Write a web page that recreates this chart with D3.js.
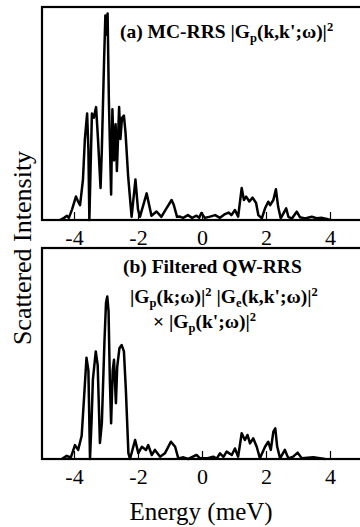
<!DOCTYPE html>
<html>
<head>
<meta charset="utf-8">
<script src="https://cdn.jsdelivr.net/npm/d3@7"></script>
<style>
  body { margin: 0; background: #fff; }
  svg { display: block; }
</style>
</head>
<body>
<svg id="chart" width="360" height="527"></svg>
<script>
// panel (a): MC-RRS spectrum, energy in meV and normalised intensity
const energyA = [-4.44, -4.31, -4.22, -4.16, -4.06, -3.94, -3.88, -3.81, -3.72, -3.66,
  -3.59, -3.55, -3.52, -3.49, -3.44, -3.38, -3.31, -3.25, -3.17, -3.13,
  -3.06, -3.02, -2.98, -2.95, -2.91, -2.84, -2.80, -2.75, -2.70, -2.66,
  -2.59, -2.55, -2.50, -2.44, -2.39, -2.31, -2.20, -2.08, -2.00, -1.94,
  -1.73, -1.58, -1.42, -1.27, -1.13, -0.95, -0.88, -0.78, -0.69, -0.59,
  -0.44, -0.31, -0.17, -0.09, -0.02, 0.09, 0.25, 0.41, 0.56, 0.72,
  0.83, 0.92, 1.03, 1.13, 1.24, 1.31, 1.38, 1.48, 1.58, 1.69,
  1.76, 1.87, 1.97, 2.07, 2.13, 2.23, 2.31, 2.38, 2.46, 2.63,
  2.70, 2.81, 2.96, 3.06, 3.22, 3.43, 3.58, 3.75, 3.90, 4.00];
const intensityA = [0, 0.01, 0.02, 0.01, 0.05, 0.11, 0.09, 0.07, 0.19, 0.38,
  0.50, 0.33, 0, 0.19, 0.50, 0.48, 0.53, 0.38, 0.15, 0.33,
  0.75, 0.96, 0.87, 0.97, 0.56, 0.12, 0.52, 0.28, 0.45, 0.23,
  0.53, 0.38, 0.48, 0.49, 0.41, 0.21, 0.015, 0.19, 0.05, 0.015,
  0.125, 0.02, 0.04, 0.015, 0.05, 0.094, 0.07, 0.015, 0.016, 0.01,
  0.023, 0.01, 0.02, 0.01, 0.033, 0.01, 0.016, 0.023, 0.01, 0.028,
  0.035, 0.023, 0.047, 0.016, 0.15, 0.094, 0.11, 0.087, 0.105, 0.08,
  0.023, 0.008, 0.055, 0.086, 0.07, 0.094, 0.144, 0.062, 0.008, 0.055,
  0.015, 0.007, 0.039, 0.013, 0.007, 0.015, 0.008, 0.01, 0.005, 0];

// panel (b): filtered QW-RRS spectrum
const energyB = [-4.38, -4.23, -4.10, -3.97, -3.87, -3.76, -3.69, -3.61, -3.55, -3.50,
  -3.45, -3.41, -3.32, -3.26, -3.19, -3.13, -3.05, -3.00, -2.96, -2.92,
  -2.88, -2.84, -2.79, -2.75, -2.69, -2.65, -2.58, -2.51, -2.44, -2.38,
  -2.30, -2.25, -2.09, -1.99, -1.88, -1.75, -1.68, -1.57, -1.47, -1.31,
  -1.16, -0.97, -0.84, -0.74, -0.58, -0.43, -0.17, -0.06, 0.15, 0.35,
  0.46, 0.56, 0.67, 0.77, 0.93, 1.03, 1.13, 1.24, 1.34, 1.42,
  1.50, 1.60, 1.71, 1.81, 1.97, 2.07, 2.15, 2.23, 2.29, 2.35,
  2.44, 2.59, 2.70, 2.85, 2.99, 3.12, 3.48, 3.84];
const intensityB = [0, 0.015, 0.007, 0.066, 0.043, 0.11, 0.28, 0.48, 0.42, 0,
  0.185, 0.375, 0.51, 0.445, 0.076, 0.17, 0.55, 0.74, 0.77, 0.70,
  0.375, 0.17, 0.42, 0.47, 0.265, 0.435, 0.525, 0.54, 0.51, 0.33,
  0.028, 0, 0.09, 0.028, 0.058, 0.043, 0.066, 0.019, 0.043, 0.011,
  0.027, 0.082, 0.058, 0.003, 0.008, 0, 0.019, 0.003, 0.003, 0.011,
  0.002, 0.027, 0.01, 0.035, 0.019, 0.05, 0.011, 0.122, 0.09, 0.114,
  0.074, 0.098, 0.058, 0.003, 0.058, 0.082, 0.043, 0.13, 0.145, 0.058,
  0.003, 0.043, 0.003, 0.011, 0.03, 0.003, 0.008, 0];

const tickValues = [-4, -2, 0, 2, 4];
const tickLabels = ["-4", "-2", "0", "2", "4"];

// label pieces: [text, "" | "sub" | "sup"]
const titleA = [["(a) MC-RRS |G", ""], ["p", "sub"], ["(k,k';ω)|", ""], ["2", "sup"]];
const titleB = [
  [["(b) Filtered QW-RRS", ""]],
  [["|G", ""], ["p", "sub"], ["(k;ω)|", ""], ["2", "sup"], [" |G", ""], ["e", "sub"], ["(k,k';ω)|", ""], ["2", "sup"]],
  [["× |G", ""], ["p", "sub"], ["(k';ω)|", ""], ["2", "sup"]]
];

const FONT = "'Liberation Serif', 'Times New Roman', serif";
const svg = d3.select("#chart");

const left = 42, right = 362;
const panels = [
  { top: 7, bottom: 220, energy: energyA, intensity: intensityA,
    title: [titleA], titleX: [120], titleY: [38] },
  { top: 248, bottom: 459, energy: energyB, intensity: intensityB,
    title: titleB, titleX: [123, 130, 153], titleY: [273, 303, 328] }
];

const x = d3.scaleLinear().domain([-5, 5]).range([left, right]);

function writeLabel(g, pieces, px, py) {
  const text = g.append("text")
    .attr("x", px)
    .attr("y", py)
    .attr("font-family", FONT)
    .attr("font-weight", "bold")
    .attr("font-size", 19.5)
    .attr("fill", "#000");
  let shift = 0;
  pieces.forEach(([s, kind]) => {
    const target = kind === "sub" ? 4 : kind === "sup" ? -7 : 0;
    text.append("tspan")
      .attr("dy", target - shift)
      .attr("font-size", kind ? 12.5 : 19.5)
      .text(s);
    shift = target;
  });
}

panels.forEach(p => {
  const g = svg.append("g");
  const y = d3.scaleLinear().domain([0, 1]).range([p.bottom, p.top]);

  // frame (right edge falls just outside the picture)
  g.append("rect")
    .attr("x", left)
    .attr("y", p.top)
    .attr("width", right - left + 4)
    .attr("height", p.bottom - p.top)
    .attr("fill", "none")
    .attr("stroke", "#000")
    .attr("stroke-width", 2.2);

  const axis = g.append("g")
    .attr("transform", "translate(0," + p.bottom + ")")
    .call(d3.axisBottom(x)
      .tickValues(tickValues)
      .tickFormat((d, i) => tickLabels[i])
      .tickSizeInner(-8)
      .tickSizeOuter(0)
      .tickPadding(9));
  axis.select(".domain").remove();
  axis.selectAll(".tick line").attr("stroke", "#000").attr("stroke-width", 1.2);
  axis.selectAll(".tick text")
    .attr("font-family", FONT)
    .attr("font-size", 22)
    .attr("fill", "#000");

  const data = p.energy.map((e, i) => [e, p.intensity[i]]);
  g.append("path")
    .datum(data)
    .attr("fill", "none")
    .attr("stroke", "#000")
    .attr("stroke-width", 2.5)
    .attr("stroke-linejoin", "round")
    .attr("d", d3.line().x(d => x(d[0])).y(d => y(d[1])));

  p.title.forEach((pieces, i) => writeLabel(g, pieces, p.titleX[i], p.titleY[i]));
});

svg.append("text")
  .attr("transform", "translate(31,248) rotate(-90)")
  .attr("text-anchor", "middle")
  .attr("font-family", FONT)
  .attr("font-size", 26)
  .attr("fill", "#000")
  .text("Scattered Intensity");

svg.append("text")
  .attr("x", 201)
  .attr("y", 520)
  .attr("text-anchor", "middle")
  .attr("font-family", FONT)
  .attr("font-size", 25)
  .attr("fill", "#000")
  .text("Energy (meV)");
</script>
</body>
</html>
